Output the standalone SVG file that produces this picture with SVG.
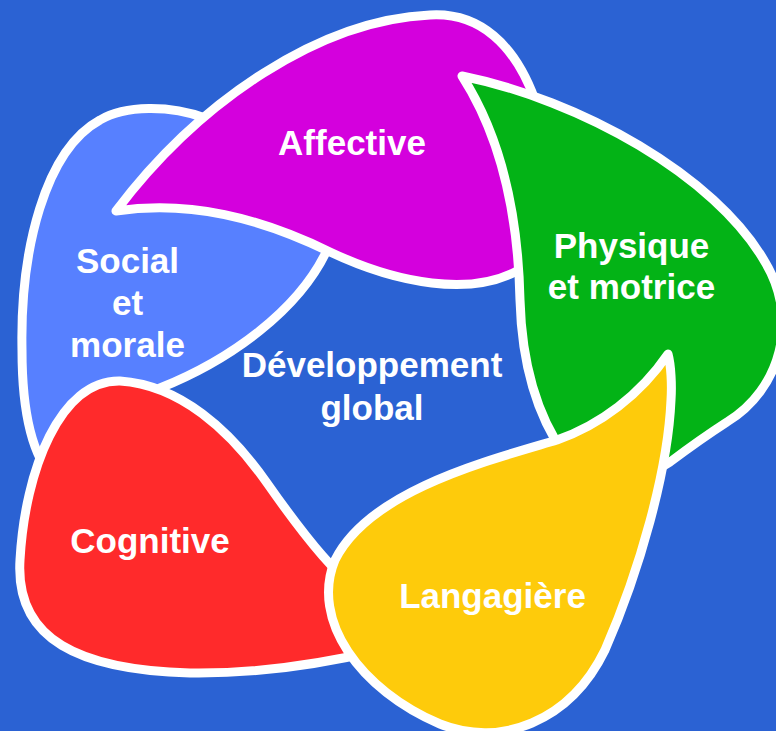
<svg xmlns="http://www.w3.org/2000/svg" width="776" height="731" viewBox="0 0 776 731">
<style>
.petal{stroke:#ffffff;stroke-width:9;stroke-linejoin:round}
.lbl{font-family:"Liberation Sans",Arial,Helvetica,sans-serif;font-weight:bold;font-size:35px;fill:#ffffff;text-anchor:middle}
</style>
<rect width="776" height="731" fill="#2B62D3"/>
<g id="social">
<path class="petal" fill="#5780FF" d="M 55 480 C 35 460, 22 420, 22 350 C 20 250, 45 150, 100 120 C 125 105, 170 105, 205 118 C 260 140, 330 200, 328 248 C 300 310, 230 360, 160 388 C 110 415, 70 450, 55 480 Z"/>
<text class="lbl" x="127.5" y="273">Social</text>
<text class="lbl" x="127.5" y="315">et</text>
<text class="lbl" x="127.5" y="357">morale</text>
</g>
<g id="affective">
<path class="petal" fill="#D400DD" d="M 116 211 C 200 100, 320 20, 430 15 C 480 12, 515 45, 535 100 C 555 160, 560 250, 515 272 C 470 295, 400 285, 330 252 C 260 218, 190 200, 116 211 Z"/>
<text class="lbl" x="352" y="155">Affective</text>
</g>
<g id="physique">
<path class="petal" fill="#03B316" d="M 462 76 C 580 100, 715 175, 765 262 C 800 320, 780 390, 727 422 C 710 433, 690 447, 670 462 C 640 482, 590 478, 565 455 C 540 420, 522 370, 520 300 C 518 210, 500 135, 462 76 Z"/>
<text class="lbl" x="631.5" y="258">Physique</text>
<text class="lbl" x="631.5" y="299">et motrice</text>
</g>
<g id="cognitive">
<path class="petal" fill="#FF2A2B" d="M 395 620 C 340 585, 300 530, 267 483 C 230 430, 180 385, 120 381 C 60 380, 25 470, 20 560 C 15 640, 80 670, 190 673 C 260 674, 330 662, 380 650 Z"/>
<text class="lbl" x="150" y="553">Cognitive</text>
</g>
<g id="langagiere">
<path class="petal" fill="#FECB0B" d="M 668 354 C 640 395, 600 425, 557 440 C 490 460, 370 490, 335 560 C 310 620, 360 690, 440 724 C 500 748, 570 722, 605 650 C 640 570, 668 470, 671 400 C 672 385, 671 365, 668 354 Z"/>
<text class="lbl" x="492.5" y="608">Langagière</text>
</g>
<g id="centre">
<text class="lbl" x="372" y="377">Développement</text>
<text class="lbl" x="372" y="420">global</text>
</g>
</svg>
